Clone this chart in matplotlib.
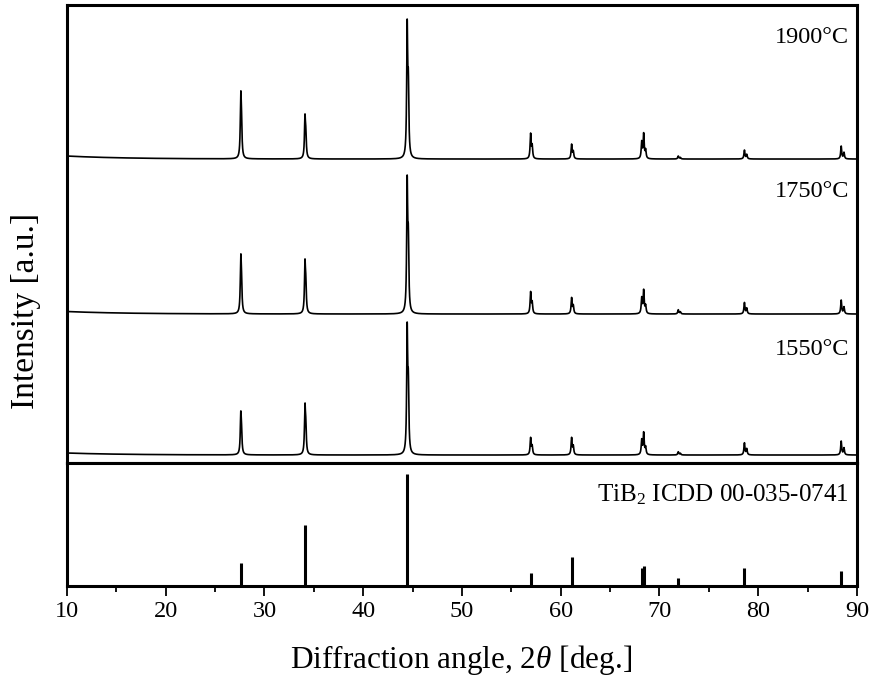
import numpy as np
import matplotlib
matplotlib.use("Agg")
import matplotlib.pyplot as plt

plt.rcParams["font.family"] = ["Liberation Serif", "DejaVu Serif"]
plt.rcParams["mathtext.fontset"] = "custom"
plt.rcParams["mathtext.rm"] = "Liberation Serif"
plt.rcParams["mathtext.it"] = "Liberation Serif:italic"

# TiB2 reflections (2theta, deg)
peak_pos = [27.6, 34.1, 44.45, 56.95, 61.1, 68.2, 68.4, 71.9, 78.6, 88.4]

# reference stick intensities (ICDD 00-035-0741, relative %)
ref_int = [21, 55, 100, 12, 26, 16, 18, 7, 16, 13]

# measured peak heights above baseline, per sintering temperature
labels = ["1550°C", "1750°C", "1900°C"]
heights = {
    "1550°C": [44, 52, 133, 17.7, 17.7, 15, 15, 3.3, 12.3, 14],
    "1750°C": [60, 55, 139, 22.6, 16.6, 16, 16, 4.3, 11.6, 14],
    "1900°C": [68, 45, 140, 26, 15, 17, 17, 3, 9, 13],
}
offsets = {"1550°C": 8, "1750°C": 149, "1900°C": 304}
low_angle_bg = {"1550°C": 2, "1750°C": 2.5, "1900°C": 3}
label_y = {"1550°C": 0.247, "1750°C": 0.592, "1900°C": 0.93}

x = np.arange(10, 90.001, 0.01)


def peak_shape(x0):
    w = 0.06
    d = np.degrees(2 * np.tan(np.radians(x0 / 2)) * 0.0025)
    p = 1 / (1 + ((x - x0) / w) ** 2) + 0.5 / (1 + ((x - x0 - d) / w) ** 2)
    return p / p.max()


fig = plt.figure(figsize=(8.72, 6.81), dpi=100)
ax1 = fig.add_axes([0.0768, 0.3201, 0.906, 0.6725])
ax2 = fig.add_axes([0.0768, 0.1395, 0.906, 0.1806])

for name in labels:
    y = offsets[name] + low_angle_bg[name] * np.exp(-(x - 10) / 6)
    for pos, h in zip(peak_pos, heights[name]):
        y = y + h * peak_shape(pos)
    ax1.plot(x, y, color="black", lw=1.2)
    ax1.text(0.99, label_y[name], name, transform=ax1.transAxes,
             ha="right", va="center", fontsize=17.5)

ax1.set_xlim(10, 90)
ax1.set_ylim(0, 458)
ax1.set_xticks([])
ax1.set_yticks([])

ax2.vlines(peak_pos, 0, ref_int, color="black", lw=2.2)
ax2.set_xlim(10, 90)
ax2.set_ylim(0, 110)
ax2.set_yticks([])
ax2.set_xticks(range(10, 91, 10))
ax2.set_xticks(range(15, 90, 10), minor=True)
ax2.tick_params(axis="x", which="major", direction="out", length=7, width=1.3,
                labelsize=17.5, pad=4)
ax2.tick_params(axis="x", which="minor", direction="out", length=4, width=1.3)
ax2.text(0.99, 0.74, "TiB$_2$ ICDD 00-035-0741", transform=ax2.transAxes,
         ha="right", va="center", fontsize=18)

for ax in (ax1, ax2):
    for s in ax.spines.values():
        s.set_linewidth(2.2)

fig.text(0.529, 0.031, r"Diffraction angle, 2$\it{\theta}$ [deg.]",
         ha="center", va="center", fontsize=22.5)
fig.text(0.029, 0.543, "Intensity [a.u.]", rotation=90,
         ha="center", va="center", fontsize=24)

fig.savefig("out.png", dpi=100)
